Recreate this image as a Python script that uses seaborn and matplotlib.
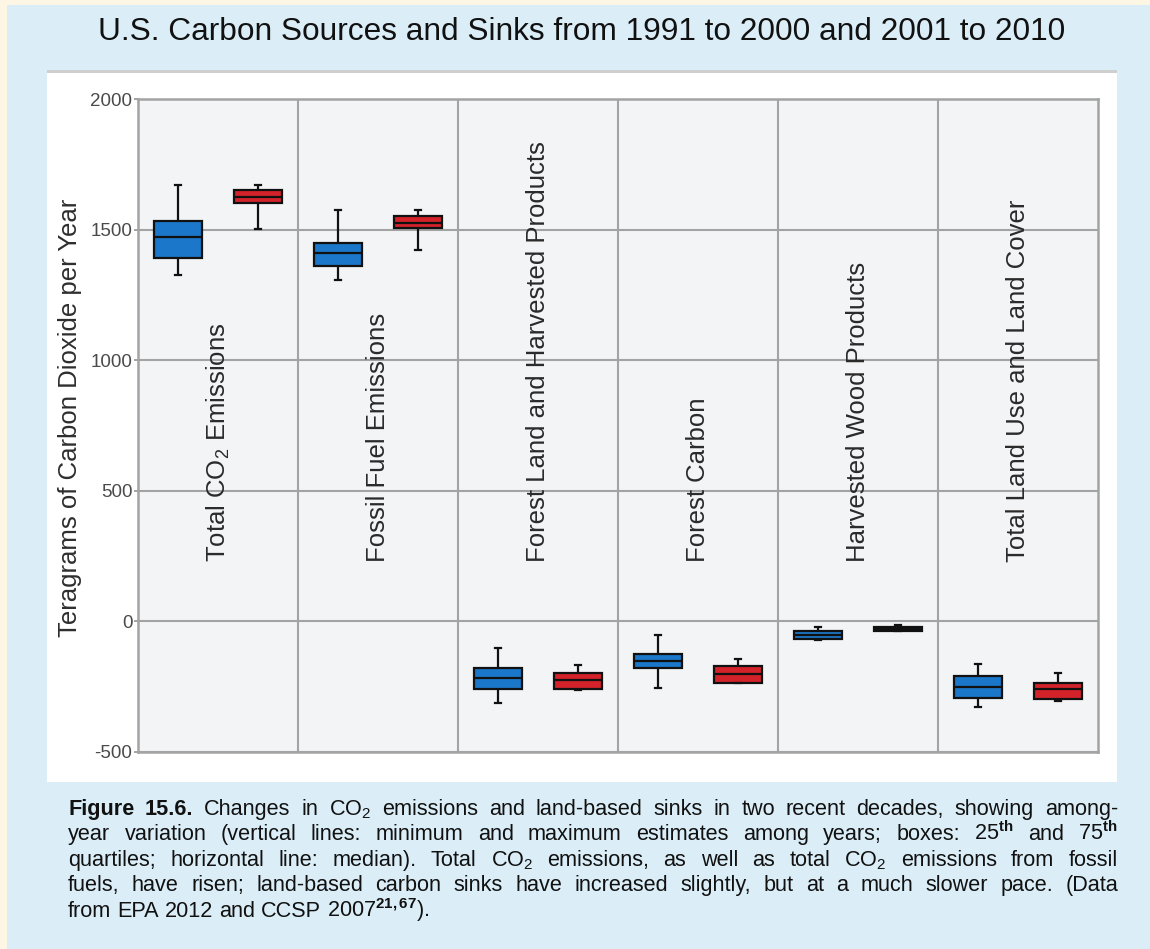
import matplotlib
matplotlib.use("Agg")
import matplotlib.pyplot as plt
from matplotlib.patches import Rectangle
import seaborn as sns
import pandas as pd

# ---------------- data ----------------
categories = ["Total CO$_2$ Emissions", "Fossil Fuel Emissions",
              "Forest Land and Harvested Products", "Forest Carbon",
              "Harvested Wood Products", "Total Land Use and Land Cover"]
periods = ["1991\u20132000", "2001\u20132010"]
# (min, q1, median, q3, max) per category
stats_1991_2000 = [
    [1326, 1390, 1470, 1533, 1671],
    [1307, 1362, 1412, 1450, 1574],
    [-311, -260, -218, -180, -103],
    [-256, -180, -152, -125, -51],
    [-70, -67, -52, -37, -20],
    [-328, -292, -250, -209, -164],
]
stats_2001_2010 = [
    [1501, 1600, 1626, 1653, 1671],
    [1421, 1505, 1527, 1552, 1574],
    [-263, -258, -224, -196, -168],
    [-237, -235, -201, -172, -143],
    [-37, -36, -29, -22, -14],
    [-305, -296, -260, -235, -196],
]
yticks = [-500, 0, 500, 1000, 1500, 2000]
title = "U.S. Carbon Sources and Sinks from 1991 to 2000 and 2001 to 2010"
ylabel = "Teragrams of Carbon Dioxide per Year"

rows = []
for period, stats in zip(periods, [stats_1991_2000, stats_2001_2010]):
    for cat, vals in zip(categories, stats):
        for v in vals:
            rows.append({"category": cat, "period": period, "value": v})
df = pd.DataFrame(rows)

# ---------------- style ----------------
plt.rcParams["font.family"] = ["Liberation Sans", "DejaVu Sans"]
plt.rcParams["mathtext.fontset"] = "custom"
plt.rcParams["mathtext.rm"] = "Liberation Sans"
plt.rcParams["mathtext.it"] = "Liberation Sans:italic"
plt.rcParams["mathtext.bf"] = "Liberation Sans:bold"

W, H = 1150, 949
fig = plt.figure(figsize=(W / 100, H / 100), dpi=100)
fig.patch.set_facecolor("#dbeef8")


def fx(px):
    return px / W


def fy(py):
    return 1 - py / H


# decorative page panels
fig.add_artist(Rectangle((0, fy(5)), 1, 5 / H, transform=fig.transFigure,
                         color="#fdf6e4", zorder=-10, lw=0))
fig.add_artist(Rectangle((0, 0), 7 / W, 1, transform=fig.transFigure,
                         color="#fdf6e4", zorder=-10, lw=0))
fig.add_artist(Rectangle((fx(47), fy(782)), (1117 - 47) / W, (782 - 70) / H,
                         transform=fig.transFigure, color="white", zorder=-9, lw=0))
fig.add_artist(Rectangle((fx(47), fy(73)), (1117 - 47) / W, 3 / H,
                         transform=fig.transFigure, color="#cfcfcf", zorder=-8, lw=0))

ax = fig.add_axes([fx(138), fy(752), (1098 - 138) / W, (752 - 99) / H])
ax.set_facecolor("#f3f4f6")

sns.boxplot(data=df, x="category", y="value", hue="period",
            order=categories, hue_order=periods,
            palette={periods[0]: "#1a77c9", periods[1]: "#d3222a"},
            saturation=1, width=1.0, gap=0.4, whis=(0, 100),
            linecolor="#111111", linewidth=1.6, legend=False,
            capwidths=0.04, ax=ax)

ax.set_xlim(-0.5, len(categories) - 0.5)
ax.set_ylim(-500, 2000)
ax.set_yticks(yticks)
ax.set_yticklabels([str(t) for t in yticks])
ax.set_xticks(range(len(categories)))
ax.set_xticklabels([])
ax.set_xticks([i + 0.5 for i in range(len(categories) - 1)], minor=True)
ax.tick_params(axis="x", which="both", length=0)
ax.tick_params(axis="y", length=3, width=1.4, color="#a3a3a3", pad=1,
               labelsize=13.5, labelcolor="#4a4a4a")
ax.set_xlabel("")
ax.set_ylabel("")
ax.grid(axis="y", which="major", color="#a3a3a3", lw=1.5)
ax.grid(axis="x", which="minor", color="#a3a3a3", lw=1.5)
ax.set_axisbelow(True)
for s in ax.spines.values():
    s.set_color("#a3a3a3")
    s.set_linewidth(1.8)

for i, cat in enumerate(categories):
    ax.text(i, 227, cat, rotation=90, ha="center", va="bottom",
            fontsize=18.5, color="#2a2a2a")

fig.text(fx(70), fy(418), ylabel, rotation=90, ha="center", va="center",
         fontsize=18.5, color="#2e2e2e")
fig.text(fx(582), fy(32), title, ha="center", va="center",
         fontsize=22.8, color="#111111")

# ---------------- caption (justified) ----------------
cap_lines = [
    ([("Figure", "bold"), ("15.6.", "bold")] +
     [(w, "normal") for w in "Changes in CO$_2$ emissions and land-based sinks in two recent decades, showing among-".split()], True),
    ([(w, "normal") for w in "year variation (vertical lines: minimum and maximum estimates among years; boxes: 25$^{\\mathbf{th}}$ and 75$^{\\mathbf{th}}$".split()], True),
    ([(w, "normal") for w in "quartiles; horizontal line: median). Total CO$_2$ emissions, as well as total CO$_2$ emissions from fossil".split()], True),
    ([(w, "normal") for w in "fuels, have risen; land-based carbon sinks have increased slightly, but at a much slower pace. (Data".split()], True),
    ([(w, "normal") for w in "from EPA 2012 and CCSP 2007$^{\\mathbf{21,67}}$).".split()], False),
]
cap_fs = 15.6
baselines = [815, 840, 866, 891, 917]
x0, x1 = 68, 1118
renderer = fig.canvas.get_renderer()
probe1 = fig.text(0, 0, "a a", fontsize=cap_fs)
probe2 = fig.text(0, 0, "aa", fontsize=cap_fs)
space_w = probe1.get_window_extent(renderer).width - probe2.get_window_extent(renderer).width
probe1.remove()
probe2.remove()
for (tokens, justify), by in zip(cap_lines, baselines):
    texts = [fig.text(0, fy(by), tok, fontsize=cap_fs, fontweight=wt,
                      ha="left", va="baseline", color="#111111")
             for tok, wt in tokens]
    widths = [t.get_window_extent(renderer).width for t in texts]
    gap = (x1 - x0 - sum(widths)) / (len(texts) - 1) if justify else space_w
    x = x0
    for t, w in zip(texts, widths):
        t.set_x(fx(x))
        x += w + gap

fig.savefig("out.png", dpi=100, facecolor=fig.get_facecolor())
